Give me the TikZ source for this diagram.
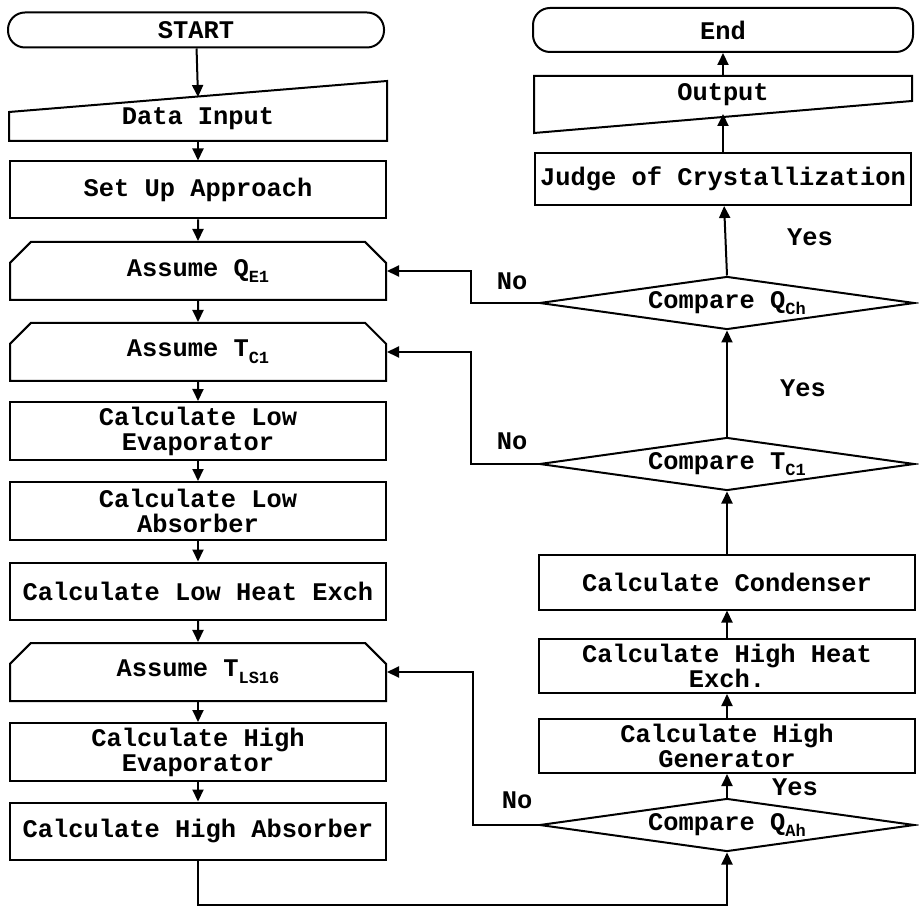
\documentclass[tikz,border=0pt]{standalone}
\usepackage{fontspec}
\setmainfont{Liberation Mono}
\usepackage{tikz}
\usetikzlibrary{arrows.meta,shapes.geometric,shapes.misc}
\newcommand\lowsub[1]{\raisebox{-0.5ex}{\fontsize{8.5}{8.5}\selectfont#1}}
\tikzset{
  blk/.style={draw,line width=1pt,minimum width=188pt,minimum height=28.5pt,
              inner sep=1pt,align=center,
              font=\fontsize{12.7}{12.5}\selectfont\bfseries},
  term/.style={blk,rounded corners=8.5pt,minimum height=17.5pt},
  io/.style={blk,draw=none,minimum height=21pt},
  prep/.style={blk,chamfered rectangle,
               chamfered rectangle corners={north west,north east},
               chamfered rectangle xsep=8pt,minimum height=29pt},
  dec/.style={blk,diamond,shape aspect=7,inner sep=0pt,
              minimum width=187.5pt,minimum height=26.5pt},
  arr/.style={-{Triangle[length=6pt,width=5.5pt]},line width=1pt},
  lbl/.style={font=\fontsize{12.7}{12.5}\selectfont\bfseries},
}
\begin{document}
\begin{tikzpicture}[x=0.5pt,y=-0.5pt]
  \useasboundingbox (0,0) rectangle (919,908);
  % left column
  \node[term](start) at (196,30){START};
  \node[io](din) at (198,119){\raisebox{-3pt}{Data Input}};
  \draw[line width=1pt](din.south west)--(din.south east)
    --([yshift=8pt]din.north east)--([yshift=-7.5pt]din.north west)--cycle;
  \node[blk](setup) at (198,190){Set Up Approach};
  \node[prep](aqe) at (198,271){Assume Q\lowsub{E1}};
  \node[prep](atc) at (198,352){Assume T\lowsub{C1}};
  \node[blk,minimum height=29pt](lowevap) at (198,431){Calculate Low\\Evaporator};
  \node[blk,minimum height=29pt](lowabs) at (198,511){Calculate Low\\Absorber};
  \node[blk](lowhx) at (198,591){Calculate Low Heat Exch};
  \node[prep](atls) at (198,672){Assume T\lowsub{LS16}};
  \node[blk,minimum height=29pt](highevap) at (198,752){Calculate High\\Evaporator};
  \node[blk](highabs) at (198,831){Calculate High Absorber};
  % right column
  \node[term,minimum height=22pt,minimum width=190pt](fin) at (723,30){End};
  \node[io,minimum height=18pt](out) at (723,95){\raisebox{-2pt}{Output}};
  \draw[line width=1pt](out.north west)--(out.north east)
    --([yshift=6.5pt]out.south east)--([yshift=-9.5pt]out.south west)--cycle;
  \node[blk,minimum height=26pt](judge) at (723,179){Judge of Crystallization};
  \node[dec](cqch) at (727,303){Compare Q\lowsub{Ch}};
  \node[dec](ctc) at (727,464){Compare T\lowsub{C1}};
  \node[blk,minimum height=27.5pt](cond) at (727,582){Calculate Condenser};
  \node[blk,minimum height=27pt](hhx) at (727,666){Calculate High Heat\\Exch.};
  \node[blk,minimum height=27pt](hgen) at (727,746){Calculate High\\Generator};
  \node[dec](cqah) at (727,825){Compare Q\lowsub{Ah}};
  % labels
  \node[lbl](yes1) at (810,237){Yes};
  \node[lbl](yes2) at (803,388){Yes};
  \node[lbl](yes3) at (795,787){Yes};
  \node[lbl](no1) at (512,281){No};
  \node[lbl](no2) at (512,441){No};
  \node[lbl](no3) at (517,800){No};
  \coordinate (nox) at (471,0);
  \coordinate (noxb) at (473,0);
  \coordinate (bot) at (0,905);
  % connectors
  \draw[arr](start)--(din.north);
  \draw[arr](din)--(setup);
  \draw[arr](setup)--(aqe);
  \draw[arr](aqe)--(atc);
  \draw[arr](atc)--(lowevap);
  \draw[arr](lowevap)--(lowabs);
  \draw[arr](lowabs)--(lowhx);
  \draw[arr](lowhx)--(atls);
  \draw[arr](atls)--(highevap);
  \draw[arr](highevap)--(highabs);
  \draw[arr](highabs.south)--(highabs.south|-bot)-|(cqah.south);
  \draw[arr](cqah)--(hgen);
  \draw[arr](hgen)--(hhx);
  \draw[arr](hhx)--(cond);
  \draw[arr](cond)--(ctc.south);
  \draw[arr](ctc.north)--(cqch.south);
  \draw[arr](cqch.north)--(judge);
  \draw[arr](judge.north)--(out.south);
  \draw[arr](out)--(fin);
  \draw[arr](cqch.west)--(cqch.west-|nox)|-(aqe.east);
  \draw[arr](ctc.west)--(ctc.west-|nox)|-(atc.east);
  \draw[arr](cqah.west)--(cqah.west-|noxb)|-(atls.east);
\end{tikzpicture}
\end{document}
